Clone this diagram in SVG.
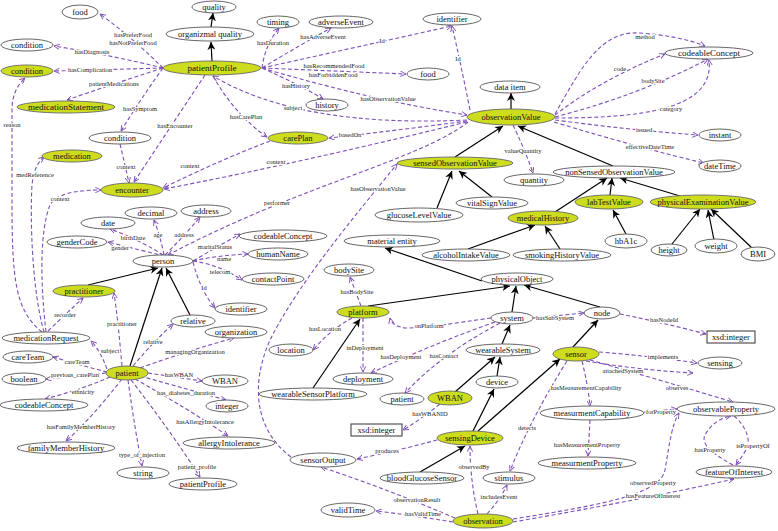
<svg xmlns="http://www.w3.org/2000/svg" width="778" height="531" viewBox="0 0 778 531">
<defs>
<marker id="ah" viewBox="0 0 10 10" refX="9.5" refY="5" markerWidth="6" markerHeight="6" markerUnits="userSpaceOnUse" orient="auto"><path d="M0,0.5 L9.5,5 L0,9.5" fill="none" stroke="#7d4fb8" stroke-width="1.5"/></marker>
<marker id="bh" viewBox="0 0 10 10" refX="10" refY="5" markerWidth="8" markerHeight="8" markerUnits="userSpaceOnUse" orient="auto"><path d="M0,0 L10,5 L0,10 L3,5 z" fill="#000"/></marker>
</defs>
<style>
.d{fill:none;stroke:#7d4fb8;stroke-width:1.1;stroke-dasharray:4 2.5;marker-end:url(#ah)}
.s{fill:none;stroke:#000;stroke-width:1.2;marker-end:url(#bh)}
.w{fill:#fff;stroke:#555;stroke-width:0.9}
.g{fill:#cddd1e;stroke:#666;stroke-width:0.9}
.r{fill:#fff;stroke:#333;stroke-width:1}
text{font-family:"Liberation Serif","Times New Roman",serif;fill:#111}
.n text{font-size:8.5px;text-anchor:middle}
.l{font-size:6.5px;text-anchor:middle;fill:#222;stroke:#fff;stroke-width:2;paint-order:stroke}
</style>
<rect width="778" height="531" fill="#fff"/>
<g id="connectors">
<!-- solid subclass edges -->
<path class="s" d="M211,27 L213,13"/>
<path class="s" d="M212,61 L211,42"/>
<path class="s" d="M511,109 L511,93"/>
<path class="s" d="M455,157 L503,126"/>
<path class="s" d="M613,166 L518,126"/>
<path class="s" d="M437,208 L452,171"/>
<path class="s" d="M492,197 L459,171"/>
<path class="s" d="M555,212 L607,178"/>
<path class="s" d="M610,195 L612,178"/>
<path class="s" d="M680,196 L620,178"/>
<path class="s" d="M626,234 L613,210"/>
<path class="s" d="M672,244 L700,209"/>
<path class="s" d="M714,240 L708,210"/>
<path class="s" d="M752,248 L711,209"/>
<path class="s" d="M468,249 L535,225"/>
<path class="s" d="M560,249 L545,226"/>
<path class="s" d="M482,281 L385,248"/>
<path class="s" d="M368,306 L510,286"/>
<path class="s" d="M512,312 L516,286"/>
<path class="s" d="M600,307 L524,285"/>
<path class="s" d="M502,344 L510,325"/>
<path class="s" d="M313,388 L360,319"/>
<path class="s" d="M573,347 L598,320"/>
<path class="s" d="M455,392 L495,357"/>
<path class="s" d="M497,376 L500,357"/>
<path class="s" d="M473,431 L494,389"/>
<path class="s" d="M478,431 L560,359"/>
<path class="s" d="M420,472 L465,446"/>
<path class="s" d="M88,285 L158,268"/>
<path class="s" d="M130,366 L162,268"/>
<path class="s" d="M190,315 L166,268"/>
<!-- dashed property edges -->
<path class="d" d="M163,68 Q135,40 100,14"/>
<path class="d" d="M163,68 Q110,55 54,46"/>
<path class="d" d="M163,68 L54,71"/>
<path class="d" d="M163,68 Q110,85 67,100"/>
<path class="d" d="M163,68 Q140,100 121,131"/>
<path class="d" d="M205,75 L134,182"/>
<path class="d" d="M262,68 Q265,45 279,28"/>
<path class="d" d="M262,68 Q300,45 331,28"/>
<path class="d" d="M262,68 L452,26"/>
<path class="d" d="M262,68 L406,74"/>
<path class="d" d="M262,68 Q300,85 323,99"/>
<path class="d" d="M262,68 Q370,100 467,115"/>
<path class="d" d="M467,120 Q300,128 213,76"/>
<path class="d" d="M213,76 Q235,115 267,137"/>
<path class="d" d="M467,121 Q400,130 329,138"/>
<path class="d" d="M467,122 Q290,165 164,189"/>
<path class="d" d="M270,141 Q220,160 163,188"/>
<path class="d" d="M120,144 Q125,165 129,183"/>
<path class="d" d="M470,110 Q460,60 452,26"/>
<path class="d" d="M555,114 C580,70 600,30 640,33 Q680,36 705,46"/>
<path class="d" d="M555,115 Q600,80 665,54"/>
<path class="d" d="M555,117 Q640,95 708,59"/>
<path class="d" d="M555,118 C640,118 715,110 709,60"/>
<path class="d" d="M555,120 Q630,130 698,135"/>
<path class="d" d="M554,122 Q640,148 704,163"/>
<path class="d" d="M513,125 Q525,150 533,173"/>
<path class="d" d="M468,122 C420,160 300,185 168,255"/>
<path class="d" d="M291,457 C255,430 250,385 270,340 C300,280 360,210 397,164"/>
<path class="d" d="M42,332 C15,310 12,280 12,200 L12,110 Q12,90 25,78"/>
<path class="d" d="M44,332 C32,290 30,220 32,185 Q34,165 44,157"/>
<path class="d" d="M46,332 C40,280 40,230 50,205 Q58,190 101,190"/>
<path class="d" d="M48,331 Q70,310 83,298"/>
<path class="d" d="M107,369 Q100,350 91,341"/>
<path class="d" d="M122,366 Q118,320 114,293"/>
<path class="d" d="M133,366 Q155,340 173,324"/>
<path class="d" d="M140,368 Q190,350 234,338"/>
<path class="d" d="M107,372 Q80,365 53,357"/>
<path class="d" d="M106,373 L46,379"/>
<path class="d" d="M110,377 Q80,390 45,399"/>
<path class="d" d="M122,379 Q90,420 66,441"/>
<path class="d" d="M128,380 Q135,430 142,466"/>
<path class="d" d="M131,380 Q170,430 200,477"/>
<path class="d" d="M135,379 Q190,410 228,436"/>
<path class="d" d="M140,376 Q190,390 226,400"/>
<path class="d" d="M148,373 L202,381"/>
<path class="d" d="M163,255 Q140,240 110,229"/>
<path class="d" d="M164,255 Q160,235 154,220"/>
<path class="d" d="M165,255 Q185,235 200,217"/>
<path class="d" d="M164,256 Q140,250 108,242"/>
<path class="d" d="M193,261 Q220,245 240,234"/>
<path class="d" d="M193,261 Q220,255 248,254"/>
<path class="d" d="M193,261 Q220,265 242,280"/>
<path class="d" d="M193,262 Q200,290 215,308"/>
<path class="d" d="M361,306 Q355,290 350,277"/>
<path class="d" d="M352,318 Q330,330 313,350"/>
<path class="d" d="M363,318 L363,372"/>
<path class="d" d="M491,318 C460,322 430,328 405,328 Q392,326 390,318"/>
<path class="d" d="M495,322 Q430,345 371,373"/>
<path class="d" d="M500,323 Q440,355 405,393"/>
<path class="d" d="M533,318 L584,313"/>
<path class="d" d="M620,314 Q660,322 706,334"/>
<path class="d" d="M440,404 Q420,420 403,430"/>
<path class="d" d="M599,352 Q650,356 697,363"/>
<path class="d" d="M586,361 Q640,370 693,373"/>
<path class="d" d="M590,360 Q660,380 733,402"/>
<path class="d" d="M582,361 Q588,385 590,406"/>
<path class="d" d="M644,412 L677,409"/>
<path class="d" d="M590,420 L588,456"/>
<path class="d" d="M733,465 C715,455 700,445 705,435 C710,425 720,418 731,416"/>
<path class="d" d="M734,416 C745,425 752,440 746,450 Q741,458 736,465"/>
<path class="d" d="M513,519 C600,505 660,495 665,470 C670,440 672,425 679,413"/>
<path class="d" d="M513,522 Q640,500 734,479"/>
<path class="d" d="M567,361 Q530,420 510,471"/>
<path class="d" d="M478,514 Q470,480 470,446"/>
<path class="d" d="M487,514 Q500,500 507,485"/>
<path class="d" d="M437,440 Q400,450 357,459"/>
<path class="d" d="M455,518 Q390,490 321,467"/>
<path class="d" d="M453,522 Q410,515 376,511"/>
<!-- edge labels -->
<text class="l" x="133" y="37">hasPreferFood</text>
<text class="l" x="133" y="45">hasNotPreferFood</text>
<text class="l" x="92" y="54">hasDiagnosis</text>
<text class="l" x="90" y="72">hasComplication</text>
<text class="l" x="114" y="86">patientMedications</text>
<text class="l" x="140" y="111">hasSymptom</text>
<text class="l" x="175" y="128">hasEncounter</text>
<text class="l" x="273" y="45">hasDuration</text>
<text class="l" x="323" y="39">hasAdverseEvent</text>
<text class="l" x="382" y="43">Id</text>
<text class="l" x="334" y="68">hasRecommendedFood</text>
<text class="l" x="333" y="77">hasForbiddenFood</text>
<text class="l" x="296" y="88">hasHistory</text>
<text class="l" x="388" y="101">hasObservationValue</text>
<text class="l" x="293" y="110">subject</text>
<text class="l" x="246" y="119">hasCarePlan</text>
<text class="l" x="350" y="137">basedOn</text>
<text class="l" x="276" y="164">context</text>
<text class="l" x="190" y="168">context</text>
<text class="l" x="126" y="169">context</text>
<text class="l" x="458" y="61">Id</text>
<text class="l" x="645" y="39">method</text>
<text class="l" x="620" y="71">code</text>
<text class="l" x="653" y="83">bodySite</text>
<text class="l" x="671" y="111">category</text>
<text class="l" x="644" y="132">issued</text>
<text class="l" x="650" y="149">effectiveDateTime</text>
<text class="l" x="523" y="153">valueQuantity</text>
<text class="l" x="277" y="205">performer</text>
<text class="l" x="378" y="191">hasObservationValue</text>
<text class="l" x="12" y="127">reason</text>
<text class="l" x="35" y="177">medReference</text>
<text class="l" x="60" y="201">context</text>
<text class="l" x="65" y="317">recorder</text>
<text class="l" x="110" y="353">subject</text>
<text class="l" x="122" y="326">practitioner</text>
<text class="l" x="153" y="344">relative</text>
<text class="l" x="195" y="354">managingOrganization</text>
<text class="l" x="77" y="364">careTeam</text>
<text class="l" x="75" y="377">previous_carePlan</text>
<text class="l" x="83" y="394">ethnicity</text>
<text class="l" x="81" y="429">hasFamilyMemberHistory</text>
<text class="l" x="142" y="457">type_of_injection</text>
<text class="l" x="197" y="469">patient_profile</text>
<text class="l" x="205" y="424">hasAllergyIntolerance</text>
<text class="l" x="186" y="395">has_diabetes_duration</text>
<text class="l" x="179" y="377">hasWBAN</text>
<text class="l" x="133" y="240">birthDate</text>
<text class="l" x="158" y="237">age</text>
<text class="l" x="184" y="237">address</text>
<text class="l" x="120" y="250">gender</text>
<text class="l" x="215" y="249">maritalStatus</text>
<text class="l" x="224" y="261">name</text>
<text class="l" x="220" y="274">telecom</text>
<text class="l" x="204" y="290">Id</text>
<text class="l" x="357" y="294">hasBodySite</text>
<text class="l" x="325" y="331">hasLocation</text>
<text class="l" x="365" y="350">inDeployment</text>
<text class="l" x="429" y="328">onPlatform</text>
<text class="l" x="401" y="359">hasDeployment</text>
<text class="l" x="444" y="358">hasContact</text>
<text class="l" x="555" y="320">hasSubSystem</text>
<text class="l" x="664" y="322">hasNodeId</text>
<text class="l" x="430" y="416">hasWBANID</text>
<text class="l" x="663" y="359">implements</text>
<text class="l" x="623" y="373">attachedSystem</text>
<text class="l" x="677" y="390">observes</text>
<text class="l" x="586" y="390">hasMeasurementCapability</text>
<text class="l" x="661" y="414">forProperty</text>
<text class="l" x="587" y="447">hasMeasurementProperty</text>
<text class="l" x="710" y="452">hasProperty</text>
<text class="l" x="753" y="448">isPropertyOf</text>
<text class="l" x="653" y="485">observedProperty</text>
<text class="l" x="653" y="498">hasFeatureOfInterest</text>
<text class="l" x="527" y="430">detects</text>
<text class="l" x="474" y="469">observedBy</text>
<text class="l" x="499" y="499">includesEvent</text>
<text class="l" x="387" y="453">produces</text>
<text class="l" x="417" y="502">observationResult</text>
<text class="l" x="423" y="516">hasValidTime</text>
</g>
<g class="n">
<g id="food1"><ellipse class="w" cx="80" cy="12" rx="18" ry="7"/><text x="80" y="15">food</text></g>
<g id="quality"><ellipse class="w" cx="214" cy="7" rx="22" ry="6"/><text x="214" y="10">quality</text></g>
<g id="organizmalQuality"><ellipse class="w" cx="210" cy="34" rx="44" ry="7"/><text x="210" y="37">organizmal quality</text></g>
<g id="condition1"><ellipse class="w" cx="27" cy="45" rx="26" ry="6"/><text x="27" y="48">condition</text></g>
<g id="condition2"><ellipse class="g" cx="27" cy="71" rx="26" ry="6"/><text x="27" y="74">condition</text></g>
<g id="medicationStatement"><ellipse class="g" cx="66" cy="107" rx="49" ry="6"/><text x="66" y="110" style="font-size:9px">medicationStatement</text></g>
<g id="patientProfile"><ellipse class="g" cx="212" cy="68" rx="49" ry="7"/><text x="212" y="71" style="font-size:9px">patientProfile</text></g>
<g id="timing"><ellipse class="w" cx="278" cy="22" rx="21" ry="6"/><text x="278" y="25">timing</text></g>
<g id="adverseEvent"><ellipse class="w" cx="341" cy="22" rx="32" ry="6"/><text x="341" y="25">adverseEvent</text></g>
<g id="identifier1"><ellipse class="w" cx="452" cy="19" rx="29" ry="6"/><text x="452" y="22">identifier</text></g>
<g id="food2"><ellipse class="w" cx="428" cy="74" rx="21" ry="6"/><text x="428" y="77">food</text></g>
<g id="history"><ellipse class="w" cx="327" cy="105" rx="21" ry="6"/><text x="327" y="108">history</text></g>
<g id="carePlan"><ellipse class="g" cx="298" cy="138" rx="30" ry="6"/><text x="298" y="141">carePlan</text></g>
<g id="dataItem"><ellipse class="w" cx="510" cy="87" rx="30" ry="6"/><text x="510" y="90">data item</text></g>
<g id="observationValue"><ellipse class="g" cx="511" cy="117" rx="44" ry="8"/><text x="511" y="120">observationValue</text></g>
<g id="codeableConcept1"><ellipse class="w" cx="709" cy="53" rx="44" ry="6"/><text x="709" y="56" style="font-size:9px">codeableConcept</text></g>
<g id="instant"><ellipse class="w" cx="720" cy="135" rx="21" ry="6"/><text x="720" y="138">instant</text></g>
<g id="dateTime"><ellipse class="w" cx="720" cy="166" rx="21" ry="6"/><text x="720" y="169">dateTime</text></g>
<g id="nonSensedObservationValue"><ellipse class="w" cx="614" cy="172" rx="61" ry="6"/><text x="614" y="175">nonSensedObservationValue</text></g>
<g id="sensedObservationValue"><ellipse class="g" cx="455" cy="163" rx="58" ry="6"/><text x="455" y="166">sensedObservationValue</text></g>
<g id="quantity"><ellipse class="w" cx="534" cy="180" rx="30" ry="6"/><text x="534" y="183">quantity</text></g>
<g id="glucoseLevelValue"><ellipse class="w" cx="419" cy="215" rx="44" ry="7"/><text x="419" y="218">glucoseLevelValue</text></g>
<g id="vitalSignValue"><ellipse class="w" cx="492" cy="203" rx="36" ry="6"/><text x="492" y="206">vitalSignValue</text></g>
<g id="medicalHistory"><ellipse class="g" cx="543" cy="218" rx="35" ry="7"/><text x="543" y="221">medicalHistory</text></g>
<g id="labTestValue"><ellipse class="g" cx="609" cy="202" rx="34" ry="7"/><text x="609" y="205">labTestValue</text></g>
<g id="physicalExaminationValue"><ellipse class="g" cx="703" cy="202" rx="53" ry="7"/><text x="703" y="205">physicalExaminationValue</text></g>
<g id="hbA1c"><ellipse class="w" cx="626" cy="241" rx="21" ry="7"/><text x="626" y="244">hbA1c</text></g>
<g id="height"><ellipse class="w" cx="669" cy="250" rx="18" ry="6"/><text x="669" y="253">height</text></g>
<g id="weight"><ellipse class="w" cx="716" cy="246" rx="21" ry="7"/><text x="716" y="249">weight</text></g>
<g id="BMI"><ellipse class="w" cx="758" cy="254" rx="17" ry="7"/><text x="758" y="257">BMI</text></g>
<g id="alcoholIntakeValue"><ellipse class="w" cx="466" cy="255" rx="44" ry="6"/><text x="466" y="258">alcoholIntakeValue</text></g>
<g id="smokingHistoryValue"><ellipse class="w" cx="562" cy="255" rx="49" ry="6"/><text x="562" y="258">smokingHistoryValue</text></g>
<g id="materialEntity"><ellipse class="w" cx="392" cy="241" rx="48" ry="6"/><text x="392" y="244">material entity</text></g>
<g id="physicalObject"><ellipse class="w" cx="517" cy="279" rx="36" ry="6"/><text x="517" y="282">physicalObject</text></g>
<g id="bodySite"><ellipse class="w" cx="349" cy="270" rx="25" ry="6"/><text x="349" y="273">bodySite</text></g>
<g id="platform"><ellipse class="g" cx="363" cy="312" rx="26" ry="6"/><text x="363" y="315">platform</text></g>
<g id="system"><ellipse class="w" cx="512" cy="318" rx="21" ry="6"/><text x="512" y="321">system</text></g>
<g id="node"><ellipse class="w" cx="602" cy="313" rx="18" ry="6"/><text x="602" y="316">node</text></g>
<g id="xsdInteger1"><rect class="r" x="707" y="331" width="48" height="12"/><text x="731" y="340">xsd:integer</text></g>
<g id="location"><ellipse class="w" cx="291" cy="350" rx="22" ry="6"/><text x="291" y="353">location</text></g>
<g id="deployment"><ellipse class="w" cx="363" cy="379" rx="30" ry="6"/><text x="363" y="382">deployment</text></g>
<g id="wearableSystem"><ellipse class="w" cx="503" cy="350" rx="37" ry="6"/><text x="503" y="353">wearableSystem</text></g>
<g id="sensor"><ellipse class="g" cx="576" cy="354" rx="23" ry="7"/><text x="576" y="357">sensor</text></g>
<g id="sensing"><ellipse class="w" cx="720" cy="363" rx="22" ry="6"/><text x="720" y="366">sensing</text></g>
<g id="device"><ellipse class="w" cx="497" cy="382" rx="21" ry="6"/><text x="497" y="385">device</text></g>
<g id="patient2"><ellipse class="w" cx="402" cy="399" rx="22" ry="6"/><text x="402" y="402">patient</text></g>
<g id="WBAN2"><ellipse class="g" cx="450" cy="398" rx="22" ry="7"/><text x="450" y="401">WBAN</text></g>
<g id="xsdInteger2"><rect class="r" x="351" y="424" width="51" height="12"/><text x="376.5" y="433">xsd:integer</text></g>
<g id="sensingDevice"><ellipse class="g" cx="470" cy="438" rx="33" ry="7"/><text x="470" y="441">sensingDevice</text></g>
<g id="measurmentCapability"><ellipse class="w" cx="592" cy="413" rx="52" ry="7"/><text x="592" y="416">measurmentCapability</text></g>
<g id="observableProperty"><ellipse class="w" cx="726" cy="409" rx="49" ry="7"/><text x="726" y="412">observableProperty</text></g>
<g id="measurmentProperty"><ellipse class="w" cx="587" cy="463" rx="49" ry="6"/><text x="587" y="466">measurmentProperty</text></g>
<g id="featureOfInterest"><ellipse class="w" cx="734" cy="472" rx="38" ry="6"/><text x="734" y="475">featureOfInterest</text></g>
<g id="sensorOutput"><ellipse class="w" cx="323" cy="460" rx="33" ry="7"/><text x="323" y="463">sensorOutput</text></g>
<g id="bloodGlucoseSensor"><ellipse class="w" cx="422" cy="478" rx="42" ry="6"/><text x="422" y="481">bloodGlucoseSensor</text></g>
<g id="stimulus"><ellipse class="w" cx="509" cy="478" rx="26" ry="6"/><text x="509" y="481">stimulus</text></g>
<g id="validTime"><ellipse class="w" cx="348" cy="510" rx="27" ry="7"/><text x="348" y="513">validTime</text></g>
<g id="observation"><ellipse class="g" cx="483" cy="521" rx="30" ry="7"/><text x="483" y="524">observation</text></g>
<g id="wearableSensorPlatform"><ellipse class="w" cx="313" cy="394" rx="54" ry="6"/><text x="313" y="397">wearableSensorPlatform</text></g>
<g id="WBAN1"><ellipse class="w" cx="225" cy="381" rx="23" ry="6"/><text x="225" y="384">WBAN</text></g>
<g id="integer"><ellipse class="w" cx="227" cy="406" rx="21" ry="6"/><text x="227" y="409">integer</text></g>
<g id="allergyIntolerance"><ellipse class="w" cx="229" cy="443" rx="46" ry="6"/><text x="229" y="446">allergyIntolerance</text></g>
<g id="patientProfile2"><ellipse class="w" cx="203" cy="484" rx="34" ry="6"/><text x="203" y="487">patientProfile</text></g>
<g id="string"><ellipse class="w" cx="143" cy="473" rx="26" ry="6"/><text x="143" y="476">string</text></g>
<g id="familyMemberHistory"><ellipse class="w" cx="66" cy="448" rx="49" ry="6"/><text x="66" y="451">familyMemberHistory</text></g>
<g id="codeableConcept3"><ellipse class="w" cx="44" cy="405" rx="44" ry="6"/><text x="44" y="408">codeableConcept</text></g>
<g id="boolean"><ellipse class="w" cx="24" cy="379" rx="22" ry="6"/><text x="24" y="382">boolean</text></g>
<g id="careTeam"><ellipse class="w" cx="28" cy="357" rx="25" ry="6"/><text x="28" y="360">careTeam</text></g>
<g id="patient1"><ellipse class="g" cx="127" cy="373" rx="21" ry="7"/><text x="127" y="376">patient</text></g>
<g id="medicationRequest"><ellipse class="w" cx="46" cy="338" rx="44" ry="6"/><text x="46" y="341">medicationRequest</text></g>
<g id="practitioner"><ellipse class="g" cx="84" cy="291" rx="31" ry="6"/><text x="84" y="294">practitioner</text></g>
<g id="relative"><ellipse class="w" cx="193" cy="321" rx="22" ry="6"/><text x="193" y="324">relative</text></g>
<g id="organization"><ellipse class="w" cx="236" cy="332" rx="31" ry="6"/><text x="236" y="335">organization</text></g>
<g id="identifier2"><ellipse class="w" cx="241" cy="309" rx="26" ry="6"/><text x="241" y="312">identifier</text></g>
<g id="person"><ellipse class="w" cx="163" cy="261" rx="30" ry="6"/><text x="163" y="264">person</text></g>
<g id="genderCode"><ellipse class="w" cx="77" cy="242" rx="30" ry="6"/><text x="77" y="245">genderCode</text></g>
<g id="date"><ellipse class="w" cx="108" cy="223" rx="27" ry="6"/><text x="108" y="226">date</text></g>
<g id="decimal"><ellipse class="w" cx="151" cy="213" rx="26" ry="6"/><text x="151" y="216">decimal</text></g>
<g id="address"><ellipse class="w" cx="206" cy="211" rx="25" ry="6"/><text x="206" y="214">address</text></g>
<g id="codeableConcept2"><ellipse class="w" cx="283" cy="236" rx="44" ry="6"/><text x="283" y="239">codeableConcept</text></g>
<g id="humanName"><ellipse class="w" cx="278" cy="254" rx="30" ry="6"/><text x="278" y="257">humanName</text></g>
<g id="contactPoint"><ellipse class="w" cx="273" cy="279" rx="31" ry="6"/><text x="273" y="282">contactPoint</text></g>
<g id="encounter"><ellipse class="g" cx="132" cy="190" rx="31" ry="7"/><text x="132" y="193">encounter</text></g>
<g id="medication"><ellipse class="g" cx="72" cy="156" rx="30" ry="6"/><text x="72" y="159">medication</text></g>
<g id="condition3"><ellipse class="w" cx="120" cy="138" rx="31" ry="6"/><text x="120" y="141">condition</text></g>
</g>
</svg>
